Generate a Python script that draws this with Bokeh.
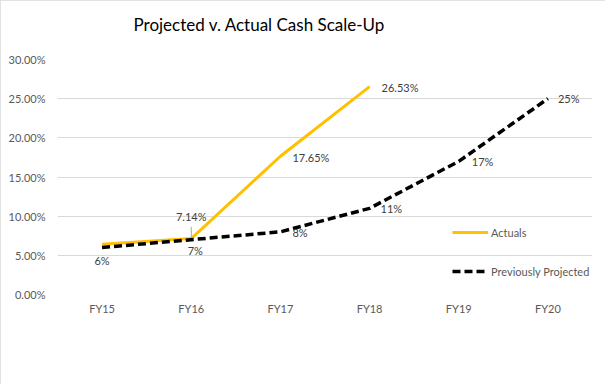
from bokeh.plotting import figure
from bokeh.models import (FactorRange, FixedTicker, NumeralTickFormatter, Legend, LegendItem,
                          ColumnDataSource, Title)
from bokeh.core.properties import value
from bokeh.embed import file_html
from bokeh.resources import INLINE

# ---- data ----
title_text = "Projected v. Actual Cash Scale-Up"
years = ["FY15", "FY16", "FY17", "FY18", "FY19", "FY20"]
actual_years = ["FY15", "FY16", "FY17", "FY18"]
actuals = [0.064, 0.0714, 0.1765, 0.2653]
actual_labels = ["", "7.14%", "17.65%", "26.53%"]
projected = [0.06, 0.07, 0.08, 0.11, 0.17, 0.25]
projected_labels = ["6%", "7%", "8%", "11%", "17%", "25%"]
y_ticks = [0.0, 0.05, 0.10, 0.15, 0.20, 0.25, 0.30]

FONT = "Lato"
TXT = "#404040"
AX = "#595959"
GRID = "#d9d9d9"

p = figure(x_range=FactorRange(*years), y_range=(0, 0.30),
           width=605, height=384, output_backend="svg", toolbar_location=None,
           min_border_left=57, min_border_right=13, min_border_top=59, min_border_bottom=90)
p.x_range.range_padding = 0
p.outline_line_color = None
p.background_fill_color = "white"
p.border_fill_color = "white"
p.styles = {"outline": "1px solid #d9d9d9", "outline-offset": "-1px"}

# spacer between frame and title, then the title itself (further from the frame)
p.add_layout(Title(text=" ", text_font=FONT, text_font_size="11px", standoff=0), "above")
p.add_layout(Title(text=title_text, text_font=FONT, text_font_size="17px",
                   text_font_style="normal", text_color="#000000",
                   align="left", offset=76, standoff=20), "above")

# axes
p.yaxis.ticker = FixedTicker(ticks=y_ticks)
p.yaxis.formatter = NumeralTickFormatter(format="0.00%")
for ax in (p.xaxis, p.yaxis):
    ax.axis_line_color = None
    ax.major_tick_line_color = None
    ax.minor_tick_line_color = None
    ax.major_tick_out = 0
    ax.major_tick_in = 0
    ax.minor_tick_out = 0
    ax.major_label_text_font = FONT
    ax.major_label_text_font_size = "11px"
    ax.major_label_text_color = AX
p.yaxis.major_label_standoff = 12
p.xaxis.major_label_standoff = 7
p.xgrid.grid_line_color = None
p.ygrid.grid_line_color = GRID
p.ygrid.grid_line_width = 1

# lines
src_a = ColumnDataSource(dict(x=actual_years, y=actuals, lab=actual_labels))
src_p = ColumnDataSource(dict(x=years, y=projected, lab=projected_labels))

r_a = p.line("x", "y", source=src_a, line_color="#FFC000", line_width=3)
r_p = p.line("x", "y", source=src_p, line_color="black", line_width=3.5, line_dash="8 4")

# data labels - projected
kw = dict(text_font=value(FONT), text_font_size="11px", text_color=TXT, text_baseline="middle")
p.text(x=years[:2], y=projected[:2], text=projected_labels[:2], text_align="center",
       x_offset=[0, 4], y_offset=[13, 11], **kw)
p.text(x=years[2:], y=projected[2:], text=projected_labels[2:], text_align="left",
       x_offset=[12, 11, 13, 10], y_offset=[1, 0, 0, 0], **kw)
# data labels - actuals
p.text(x=actual_years[1:2], y=actuals[1:2], text=actual_labels[1:2], text_align="center",
       y_offset=-22, **kw)
p.text(x=actual_years[2:], y=actuals[2:], text=actual_labels[2:], text_align="left",
       x_offset=12, y_offset=1, **kw)
# leader line for 7.14%
p.segment(x0=actual_years[1:2], y0=[actuals[1] + 0.001], x1=actual_years[1:2],
          y1=[actuals[1] + 0.015], line_color="#a6a6a6", line_width=1)

legend = Legend(items=[LegendItem(label="Actuals", renderers=[r_a]),
                       LegendItem(label="Previously Projected", renderers=[r_p])],
                location=(395, 13), orientation="vertical",
                label_text_font=FONT, label_text_font_size="11px", label_text_color=AX,
                glyph_width=36, glyph_height=20, label_height=20, spacing=19,
                label_standoff=3, padding=0, margin=0,
                background_fill_alpha=0, border_line_color=None)
p.add_layout(legend, "center")

open("out.html", "w").write(file_html(p, INLINE))
